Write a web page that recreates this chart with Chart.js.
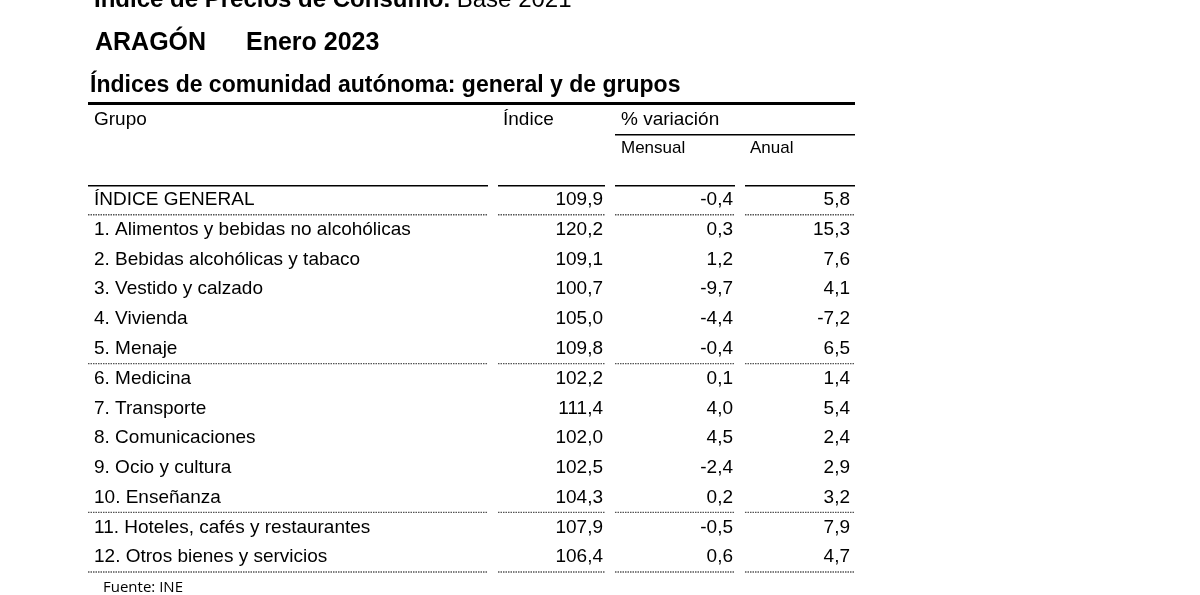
<!DOCTYPE html>
<html><head><meta charset="utf-8">
<script src="https://cdn.jsdelivr.net/npm/chart.js@4"></script>
<style>html,body{margin:0;padding:0;background:#fff}#w{width:1200px;height:595px}</style>
</head><body><div id="w"><canvas id="c"></canvas></div>
<script>
const groups = ["ÍNDICE GENERAL","1. Alimentos y bebidas no alcohólicas","2. Bebidas alcohólicas y tabaco","3. Vestido y calzado","4. Vivienda","5. Menaje","6. Medicina","7. Transporte","8. Comunicaciones","9. Ocio y cultura","10. Enseñanza","11. Hoteles, cafés y restaurantes","12. Otros bienes y servicios"];
const indice = [109.9,120.2,109.1,100.7,105.0,109.8,102.2,111.4,102.0,102.5,104.3,107.9,106.4];
const mensual = [-0.4,0.3,1.2,-9.7,-4.4,-0.4,0.1,4.0,4.5,-2.4,0.2,-0.5,0.6];
const anual = [5.8,15.3,7.6,4.1,-7.2,6.5,1.4,5.4,2.4,2.9,3.2,7.9,4.7];
const fmt = v => v.toFixed(1).replace('.', ',');
const F = 'Liberation Sans, Arial, sans-serif';

const tablePlugin = {
  id: 'table',
  afterDraw(chart) {
    const ctx = chart.ctx, x = chart.scales.x, y = chart.scales.y, ca = chart.chartArea;
    const X = v => x.getPixelForValue(v);
    ctx.save();
    ctx.fillStyle = '#000'; ctx.textBaseline = 'middle';
    ctx.font = 'bold 24px ' + F; ctx.textAlign = 'left';
    ctx.fillText('Índice de Precios de Consumo.', X(94), 0);
    const w = ctx.measureText('Índice de Precios de Consumo. ').width;
    ctx.font = '24px ' + F; ctx.fillText('Base 2021', X(94) + w, 0);
    ctx.font = 'bold 25px ' + F;
    ctx.fillText('ARAGÓN', X(95), 43);
    ctx.fillText('Enero 2023', X(246), 43);
    ctx.font = 'bold 23px ' + F;
    ctx.fillText('Índices de comunidad autónoma: general y de grupos', X(90), 86);
    ctx.fillRect(X(88), 102, X(855) - X(88), 3);
    ctx.font = '19px ' + F;
    ctx.fillText('Grupo', X(94), 120);
    ctx.fillText('Índice', X(503), 120);
    ctx.fillText('% variación', X(621), 120);
    ctx.fillRect(X(615), 134, X(855) - X(615), 1.5);
    ctx.font = '17px ' + F;
    ctx.fillText('Mensual', X(621), 148);
    ctx.fillText('Anual', X(750), 148);
    // header separators
    [[88,488],[498,605],[615,735],[745,855]].forEach(([a,b]) => ctx.fillRect(X(a), ca.top, X(b)-X(a), 1.5));
    ctx.font = '19px ' + F;
    groups.forEach((g, i) => {
      const py = y.getPixelForValue(i);
      ctx.textAlign = 'left'; ctx.fillText(g, X(94), py);
      ctx.textAlign = 'right';
      ctx.fillText(fmt(indice[i]), X(603), py);
      ctx.fillText(fmt(mensual[i]), X(733), py);
      ctx.fillText(fmt(anual[i]), X(850), py);
    });
    // dotted separators
    ctx.strokeStyle = '#555'; ctx.lineWidth = 1.3; ctx.setLineDash([1.5, 1]);
    [0, 5, 10, 12].forEach(i => {
      const py = y.getPixelForValue(i) + (y.getPixelForValue(1) - y.getPixelForValue(0)) / 2;
      [[88,488],[498,605],[615,735],[745,855]].forEach(([a,b]) => {
        ctx.beginPath(); ctx.moveTo(X(a), py); ctx.lineTo(X(b), py); ctx.stroke();
      });
    });
    ctx.setLineDash([]);
    ctx.textAlign = 'left'; ctx.font = '15px "Open Sans", sans-serif';
    ctx.fillText('Fuente: INE', X(103), 588);
    ctx.restore();
  }
};

new Chart(document.getElementById('c'), {
  type: 'scatter',
  data: { labels: groups, datasets: [{ data: groups.map((g, i) => ({ x: 0, y: g })), pointRadius: 0 }] },
  options: {
    responsive: true, maintainAspectRatio: false, animation: false,
    layout: { padding: { top: 185, bottom: 23, left: 0, right: 0 } },
    plugins: { legend: { display: false }, tooltip: { enabled: false } },
    scales: {
      x: { type: 'linear', min: 0, max: 1200, display: false },
      y: { type: 'category', labels: groups, offset: true, display: false }
    }
  },
  plugins: [tablePlugin]
});
</script></body></html>
